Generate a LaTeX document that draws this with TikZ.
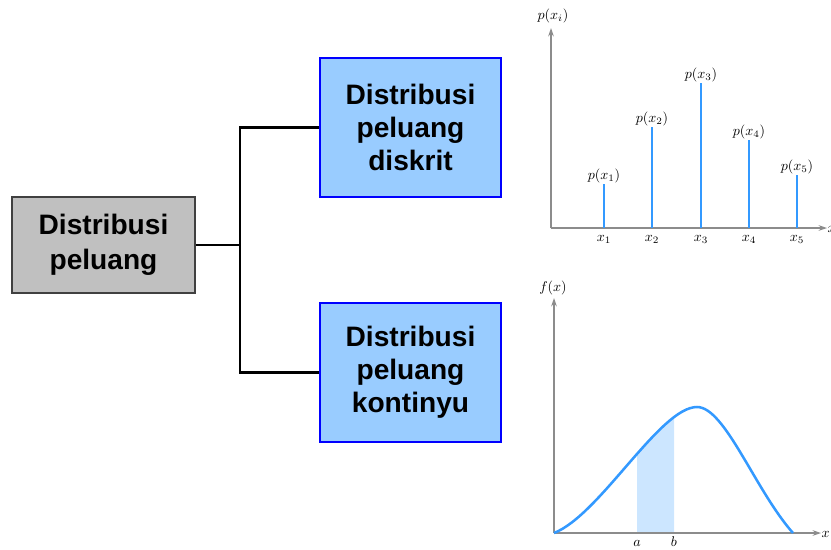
\documentclass[tikz,border=0pt]{standalone}
\usepackage{fontspec}
\setmainfont{Liberation Sans}
\usetikzlibrary{arrows.meta,positioning}
\definecolor{boxgray}{HTML}{C0C0C0}
\definecolor{rimgray}{HTML}{404040}
\definecolor{boxblue}{HTML}{99CCFF}
\definecolor{rimblue}{HTML}{0000FF}
\definecolor{stemblue}{HTML}{3399FF}
\definecolor{shadeblue}{HTML}{CCE6FF}
\definecolor{axisgray}{HTML}{8C8C8C}
\begin{document}
\begin{tikzpicture}[x=0.025cm,y=-0.025cm,
    rootbox/.style={draw=rimgray, fill=boxgray, line width=2pt, minimum width=4.575cm,
      minimum height=2.4cm, align=center, font=\bfseries\fontsize{20}{25}\selectfont},
    kindbox/.style={draw=rimblue, fill=boxblue, line width=2pt, minimum width=4.525cm,
      minimum height=3.475cm, align=center, font=\bfseries\fontsize{20}{23.5}\selectfont},
    axis/.style={axisgray, line width=0.8pt, -{Stealth[length=6pt,width=4pt]}},
    stem/.style={stemblue, line width=2pt},
    lab/.style={font=\fontsize{10}{12}\selectfont, inner sep=1pt, text height=1.6ex, text depth=0.4ex}]
  \useasboundingbox (0,0) rectangle (831,549);
  % tree
  \node[rootbox] (root) at (103.5,245) {Distribusi\\peluang};
  \node[kindbox] (discrete) at (410.5,127.5) {Distribusi\\peluang\\diskrit};
  \node[kindbox] (continuous) at (410.5,372.5) {Distribusi\\peluang\\kontinyu};
  \coordinate (fork) at (240,245);
  \draw[line width=2pt] (root.east) -- (fork);
  \draw[line width=2pt] (fork) |- (discrete.west);
  \draw[line width=2pt] (fork) |- (continuous.west);
  % discrete chart
  \draw[axis] (551,228) -- (551,28);
  \draw[axis] (551,228) -- (827,228);
  \node[lab] at (553,15) {$p(x_i)$};
  \node[lab, right] at (826,228) {$x$};
  \foreach \x/\h [count=\i] in {604/184, 652/127, 701/83, 749/140, 797/175}
  {
    \draw[stem] (\x,228) -- (\x,\h);
    \node[lab, above] at (\x,\h) {$p(x_{\i})$};
    \node[lab, below] at (\x,228) {$x_{\i}$};
  }
  % continuous chart
  \begin{scope}
    \clip (637,540) rectangle (674,380);
    \fill[shadeblue] (554,533) .. controls (600,515) and (660,407) .. (697,407)
      -- (697,533) -- cycle;
  \end{scope}
  \draw[axis] (554,533) -- (554,298);
  \draw[axis] (554,533) -- (821,533);
  \node[lab] at (553,287) {$f(x)$};
  \node[lab, right] at (820,533) {$x$};
  \draw[stemblue, line width=1.8pt] (554,533) .. controls (600,515) and (660,407) .. (697,407)
    .. controls (725,407) and (755,490) .. (793,533);
  \node[lab, below] at (637,533) {$a$};
  \node[lab, below] at (674,533) {$b$};
\end{tikzpicture}
\end{document}
